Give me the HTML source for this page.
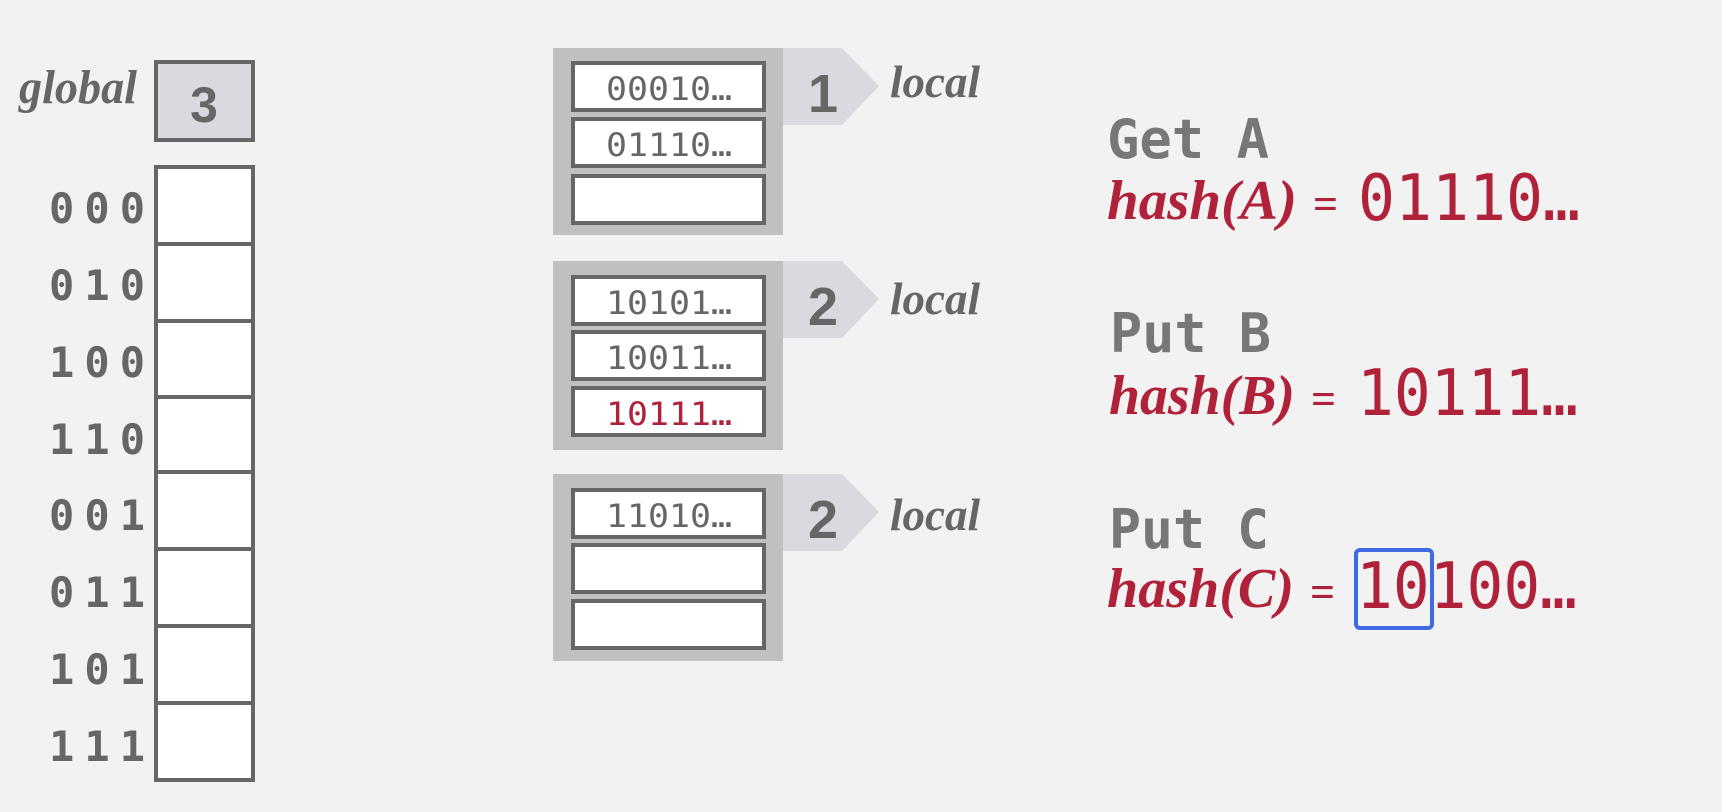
<!DOCTYPE html>
<html><head><style>body{margin:0;background:#f2f2f2}svg{display:block}</style></head><body>
<svg width="1722" height="812" xmlns="http://www.w3.org/2000/svg">
<rect width="1722" height="812" fill="#f2f2f2"/>
<g font-family="Liberation Serif, serif" font-style="italic" font-weight="bold" fill="#666">
<text x="19" y="103" font-size="48" textLength="118" lengthAdjust="spacingAndGlyphs">global</text>
<text x="890" y="97" font-size="46" textLength="90" lengthAdjust="spacingAndGlyphs">local</text>
<text x="890" y="314" font-size="46" textLength="90" lengthAdjust="spacingAndGlyphs">local</text>
<text x="890" y="530" font-size="46" textLength="90" lengthAdjust="spacingAndGlyphs">local</text>
</g>
<rect x="156" y="62" width="97" height="78" fill="#d8dae0" stroke="#666" stroke-width="4"/>
<text x="204" y="122" font-family="Liberation Sans, sans-serif" font-size="50" font-weight="bold" fill="#666" text-anchor="middle">3</text>
<g fill="#fff" stroke="#666" stroke-width="4">
<rect x="156" y="167" width="97" height="77"/><rect x="156" y="244" width="97" height="77"/>
<rect x="156" y="321" width="97" height="76"/><rect x="156" y="397" width="97" height="75"/>
<rect x="156" y="472" width="97" height="77"/><rect x="156" y="549" width="97" height="77"/>
<rect x="156" y="626" width="97" height="77"/><rect x="156" y="703" width="97" height="77"/>
</g>
<g font-family="DejaVu Sans Mono, monospace" font-weight="bold" font-size="42" fill="#666">
<text x="49" y="223" textLength="96">000</text>
<text x="49" y="300" textLength="96">010</text>
<text x="49" y="377" textLength="96">100</text>
<text x="49" y="454" textLength="96">110</text>
<text x="49" y="530" textLength="96">001</text>
<text x="49" y="607" textLength="96">011</text>
<text x="49" y="684" textLength="96">101</text>
<text x="49" y="761" textLength="96">111</text>
</g>
<g fill="#d8dae0">
<polygon points="783,48 842,48 879,86 842,125 783,125"/>
<polygon points="783,261 842,261 879,299 842,338 783,338"/>
<polygon points="783,474 842,474 879,512 842,551 783,551"/>
</g>
<g font-family="Liberation Sans, sans-serif" font-size="54" font-weight="bold" fill="#666" text-anchor="middle">
<text x="823" y="112">1</text><text x="823" y="325">2</text><text x="823" y="538">2</text>
</g>
<g fill="#c0c0c0">
<rect x="553" y="48" width="230" height="187"/><rect x="553" y="261" width="230" height="189"/><rect x="553" y="474" width="230" height="187"/>
</g>
<g fill="#fff" stroke="#666" stroke-width="4">
<rect x="573" y="63" width="191" height="47"/><rect x="573" y="119" width="191" height="47"/><rect x="573" y="176" width="191" height="47"/>
<rect x="573" y="277" width="191" height="47"/><rect x="573" y="332" width="191" height="47"/><rect x="573" y="388" width="191" height="47"/>
<rect x="573" y="490" width="191" height="47"/><rect x="573" y="545" width="191" height="47"/><rect x="573" y="601" width="191" height="47"/>
</g>
<g font-family="DejaVu Sans Mono, monospace" font-size="32" fill="#666">
<text x="606" y="100" textLength="126" lengthAdjust="spacingAndGlyphs">00010…</text>
<text x="606" y="156" textLength="126" lengthAdjust="spacingAndGlyphs">01110…</text>
<text x="606" y="314" textLength="126" lengthAdjust="spacingAndGlyphs">10101…</text>
<text x="606" y="369" textLength="126" lengthAdjust="spacingAndGlyphs">10011…</text>
<text x="606" y="425" textLength="126" lengthAdjust="spacingAndGlyphs" fill="#b0213a">10111…</text>
<text x="606" y="527" textLength="126" lengthAdjust="spacingAndGlyphs">11010…</text>
</g>
<g font-family="DejaVu Sans Mono, monospace" font-weight="bold" font-size="54" fill="#777">
<text x="1107" y="158" textLength="162" lengthAdjust="spacingAndGlyphs">Get A</text>
<text x="1110" y="352" textLength="161" lengthAdjust="spacingAndGlyphs">Put B</text>
<text x="1109" y="548" textLength="160" lengthAdjust="spacingAndGlyphs">Put C</text>
</g>
<g font-family="Liberation Serif, serif" font-style="italic" font-weight="bold" font-size="56" fill="#b0213a">
<text x="1107" y="219" textLength="190" lengthAdjust="spacingAndGlyphs">hash(A)</text>
<text x="1109" y="414" textLength="186" lengthAdjust="spacingAndGlyphs">hash(B)</text>
<text x="1107" y="607" textLength="187" lengthAdjust="spacingAndGlyphs">hash(C)</text>
<text x="1313" y="219" font-style="normal" font-size="44">=</text>
<text x="1311" y="414" font-style="normal" font-size="44">=</text>
<text x="1310" y="607" font-style="normal" font-size="44">=</text>
</g>
<g font-family="DejaVu Sans Mono, monospace" font-size="64" fill="#b0213a">
<text x="1358" y="220" textLength="222" lengthAdjust="spacingAndGlyphs">01110…</text>
<text x="1357" y="415" textLength="221" lengthAdjust="spacingAndGlyphs">10111…</text>
<text x="1356" y="608" textLength="221" lengthAdjust="spacingAndGlyphs">10100…</text>
</g>
<rect x="1356" y="550" width="76" height="78" rx="4" fill="none" stroke="#4169e1" stroke-width="4"/>
</svg>
</body></html>
